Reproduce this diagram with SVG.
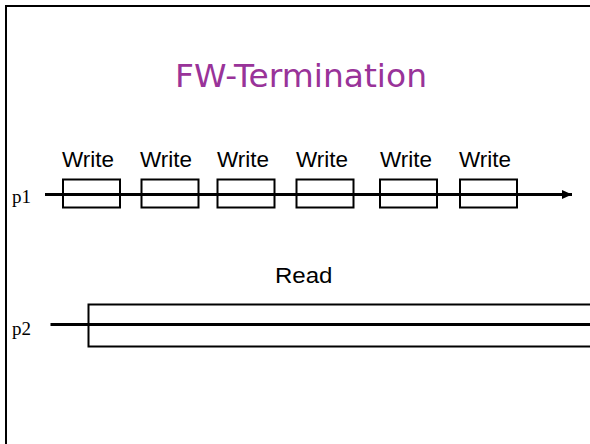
<svg xmlns="http://www.w3.org/2000/svg" width="590" height="444" viewBox="0 0 590 444">
<defs>
<style>
.lbl{font-family:"Liberation Sans",Arial,sans-serif;font-size:22px;fill:#000}
.pl{font-family:"Liberation Serif","Times New Roman",serif;font-size:19px;fill:#000}
.box{fill:none;stroke:#000;stroke-width:2}
.line{stroke:#000;stroke-width:3;fill:none}
</style>
<marker id="arr" markerWidth="10" markerHeight="10" refX="10" refY="5" orient="auto" markerUnits="userSpaceOnUse">
<path d="M0,0.5 L10,5 L0,9.5 Z" fill="#000"/>
</marker>
</defs>
<rect width="590" height="444" fill="#fff"/>
<rect x="6" y="6" width="600" height="460" fill="none" stroke="#000" stroke-width="2"/>
<text x="301" y="86.5" text-anchor="middle" font-family="DejaVu Sans,Verdana,sans-serif" font-size="32" fill="#993399" textLength="252" lengthAdjust="spacingAndGlyphs">FW-Termination</text>
<g id="p1">
<text class="pl" x="12" y="203">p1</text>
</g>
<g id="w1"><rect class="box" x="63" y="179.5" width="57" height="28"/><text class="lbl" x="62" y="166.5" textLength="52" lengthAdjust="spacingAndGlyphs">Write</text></g>
<g id="w2"><rect class="box" x="141.5" y="179.5" width="57" height="28"/><text class="lbl" x="140" y="166.5" textLength="52" lengthAdjust="spacingAndGlyphs">Write</text></g>
<g id="w3"><rect class="box" x="217.5" y="179.5" width="57" height="28"/><text class="lbl" x="217" y="166.5" textLength="52" lengthAdjust="spacingAndGlyphs">Write</text></g>
<g id="w4"><rect class="box" x="296.5" y="179.5" width="57" height="28"/><text class="lbl" x="296" y="166.5" textLength="52" lengthAdjust="spacingAndGlyphs">Write</text></g>
<g id="w5"><rect class="box" x="380" y="179.5" width="57" height="28"/><text class="lbl" x="380" y="166.5" textLength="52" lengthAdjust="spacingAndGlyphs">Write</text></g>
<g id="w6"><rect class="box" x="460" y="179.5" width="57" height="28"/><text class="lbl" x="459" y="166.5" textLength="52" lengthAdjust="spacingAndGlyphs">Write</text></g>
<g id="p2">
<text class="pl" x="12" y="335">p2</text>
</g>
<g id="read"><rect class="box" x="88.5" y="304.5" width="520" height="42"/><text class="lbl" x="275" y="282.5" textLength="57.5" lengthAdjust="spacingAndGlyphs">Read</text></g>
<g id="connectors">
<line class="line" x1="45" y1="194.5" x2="572" y2="194.5" marker-end="url(#arr)"/>
<line class="line" x1="50.5" y1="324.5" x2="592" y2="324.5"/>
</g>
</svg>
